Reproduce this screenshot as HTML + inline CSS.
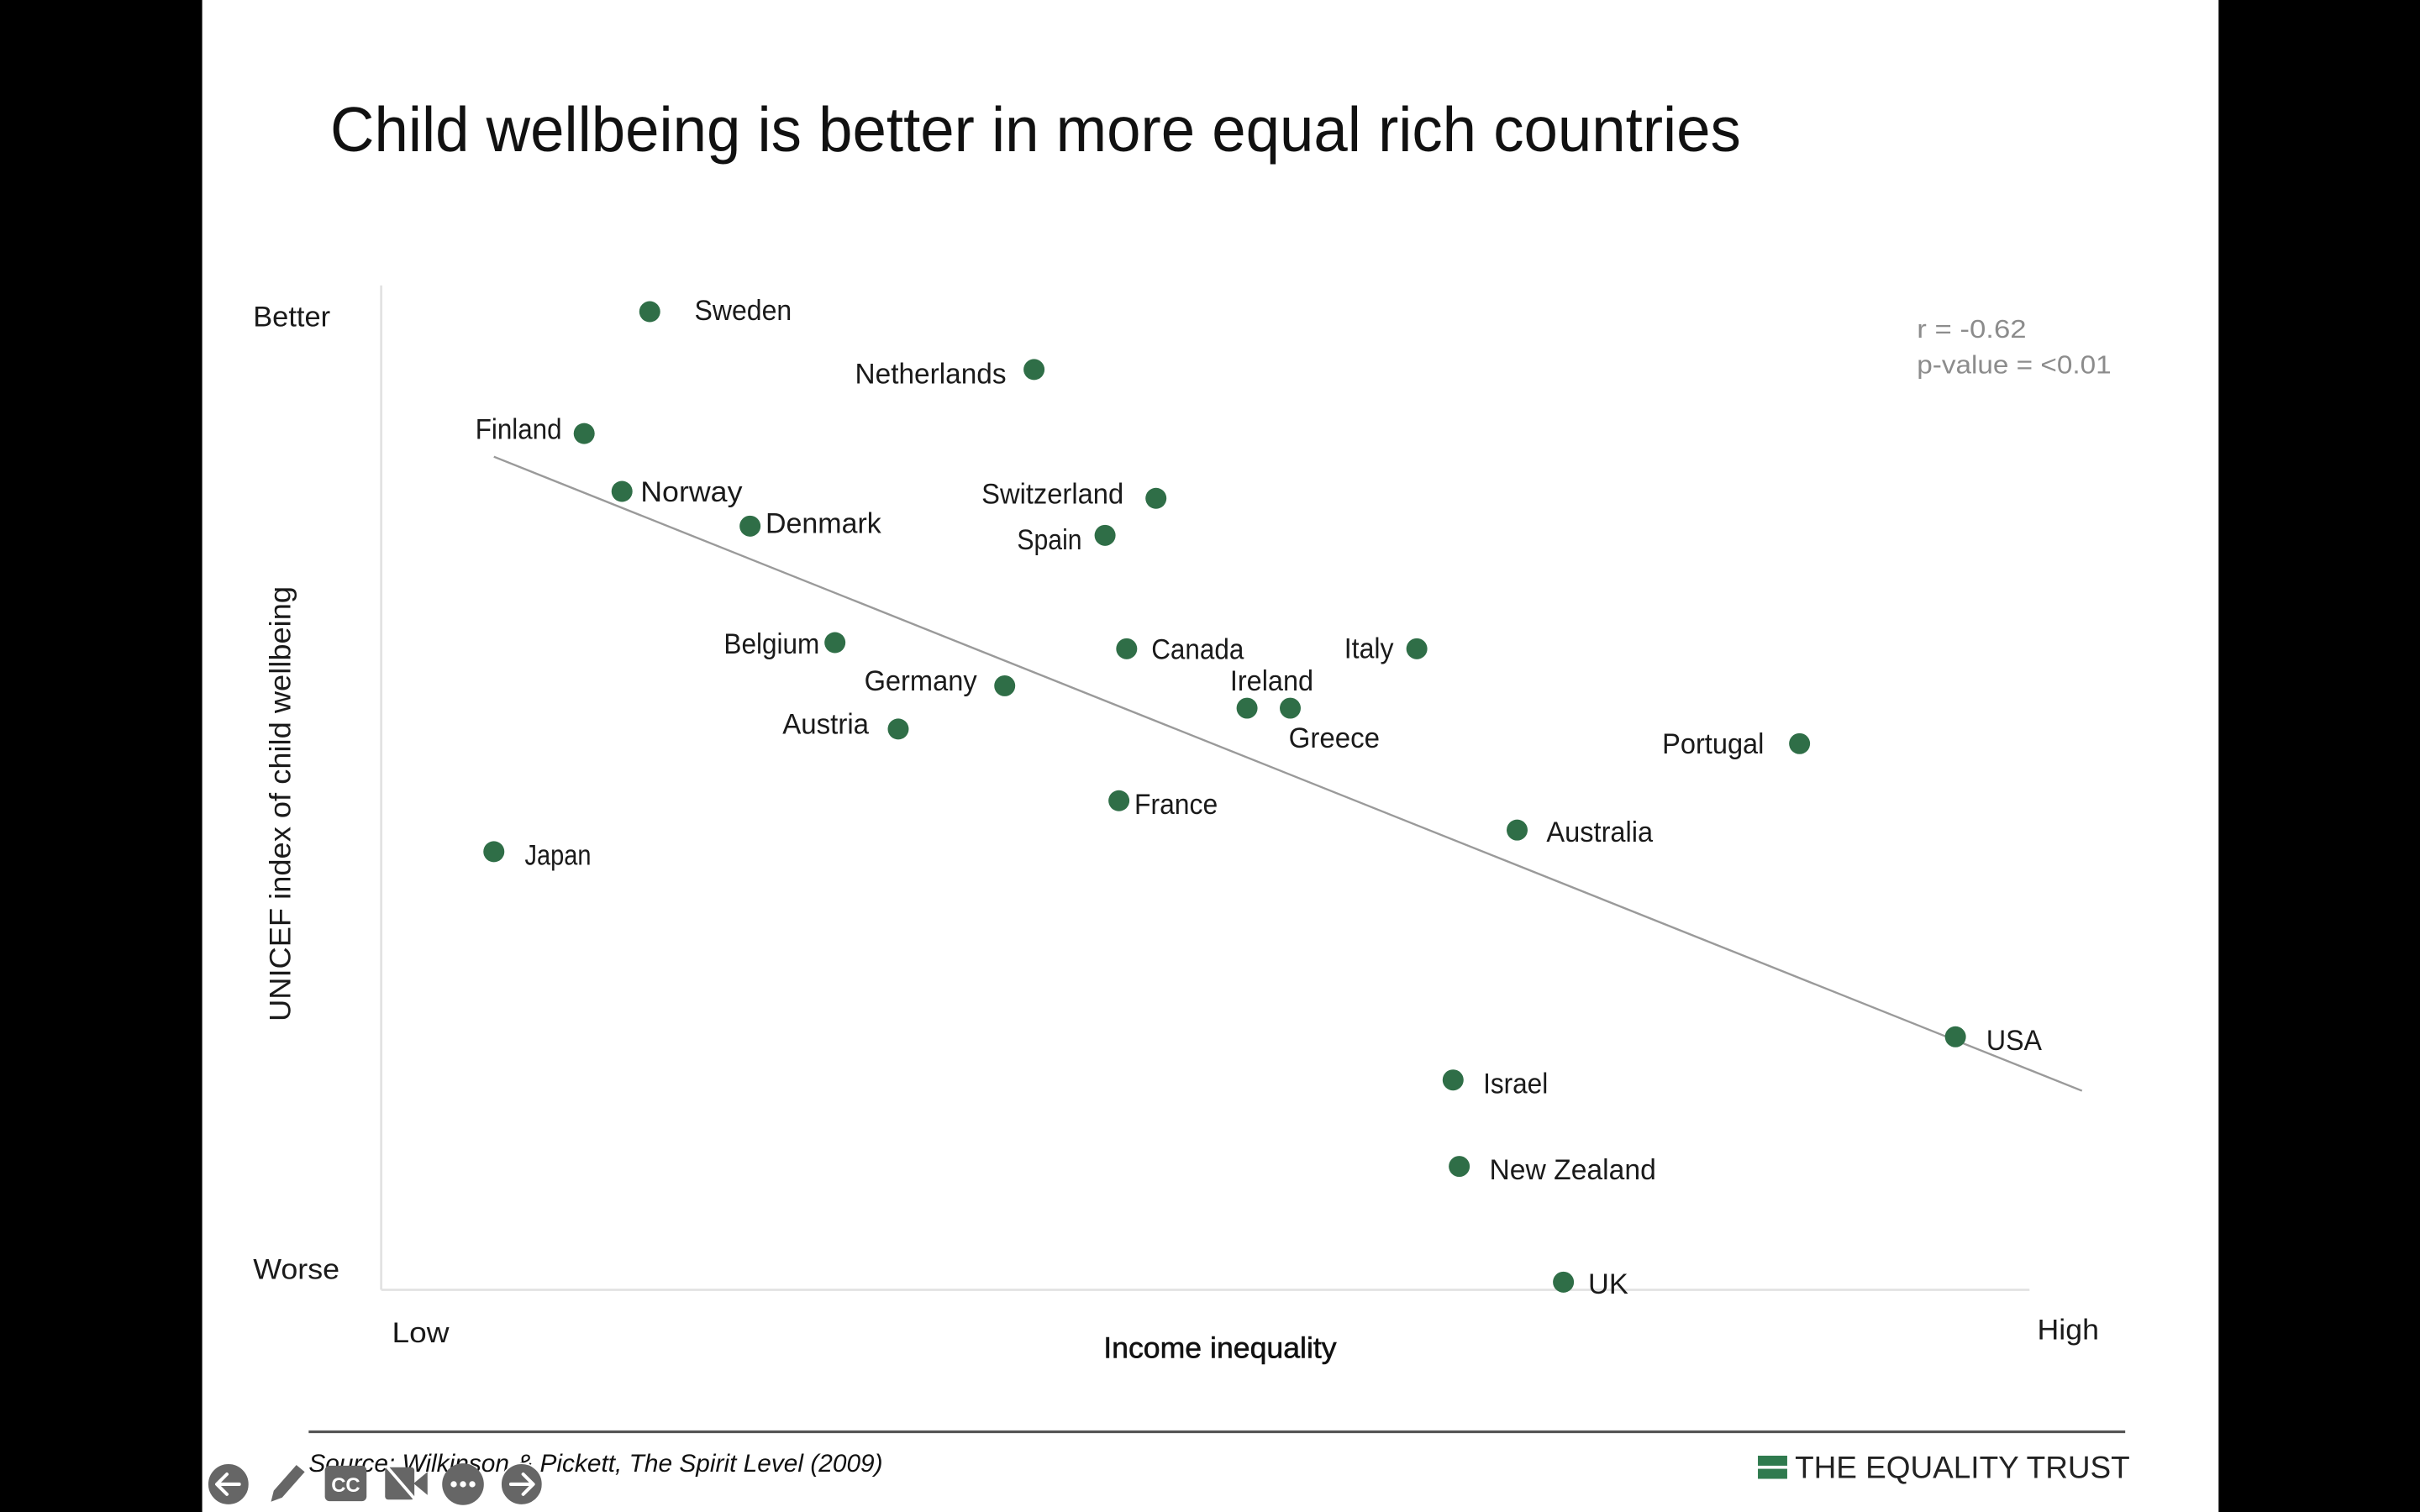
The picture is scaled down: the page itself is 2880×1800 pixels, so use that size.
<!DOCTYPE html>
<html>
<head>
<meta charset="utf-8">
<style>
  html, body { margin: 0; padding: 0; background: #000; }
  svg { display: block; }
  text { font-family: "Liberation Sans", "DejaVu Sans", sans-serif; }
</style>
</head>
<body>
<svg xmlns="http://www.w3.org/2000/svg" width="2880" height="1800" viewBox="0 0 1568 980">
  <rect x="0" y="0" width="1568" height="980" fill="#000"/>
  <rect x="131" y="0" width="1306.5" height="980" fill="#fff"/>

  <!-- Title -->
  <text x="214" y="98" font-size="41" fill="#111" textLength="914" lengthAdjust="spacingAndGlyphs">Child wellbeing is better in more equal rich countries</text>

  <!-- Axes -->
  <line x1="247" y1="185" x2="247" y2="836" stroke="#e2e2e2" stroke-width="1.5"/>
  <line x1="247" y1="836" x2="1315" y2="836" stroke="#e2e2e2" stroke-width="1.5"/>

  <!-- Axis labels -->
  <g font-size="18.5" fill="#1a1a1a">
    <text x="164" y="211.5" textLength="50" lengthAdjust="spacingAndGlyphs">Better</text>
    <text x="164" y="829" textLength="56" lengthAdjust="spacingAndGlyphs">Worse</text>
    <text x="254" y="870" textLength="37" lengthAdjust="spacingAndGlyphs">Low</text>
    <text x="1320" y="868" textLength="40" lengthAdjust="spacingAndGlyphs">High</text>
  </g>
  <text x="715" y="880" font-size="19" fill="#111" stroke="#111" stroke-width="0.3" textLength="151" lengthAdjust="spacingAndGlyphs">Income inequality</text>
  <text transform="translate(188,521) rotate(-90)" x="0" y="0" text-anchor="middle" font-size="19" fill="#1a1a1a" textLength="282" lengthAdjust="spacingAndGlyphs">UNICEF index of child wellbeing</text>

  <!-- Stats -->
  <g font-size="16.5" fill="#8c8c8c">
    <text x="1242" y="219" textLength="71" lengthAdjust="spacingAndGlyphs">r = -0.62</text>
    <text x="1242" y="242" textLength="126" lengthAdjust="spacingAndGlyphs">p-value = &lt;0.01</text>
  </g>

  <!-- Trend line -->
  <line x1="320" y1="296" x2="1349" y2="707" stroke="#9a9a9a" stroke-width="1.3"/>

  <!-- Points -->
  <g fill="#2f6e47">
    <circle cx="421" cy="202" r="6.8"/>
    <circle cx="670" cy="239.5" r="6.8"/>
    <circle cx="378.5" cy="281" r="6.8"/>
    <circle cx="403" cy="318.5" r="6.8"/>
    <circle cx="486" cy="341" r="6.8"/>
    <circle cx="749" cy="323" r="6.8"/>
    <circle cx="716" cy="347" r="6.8"/>
    <circle cx="541" cy="416.5" r="6.8"/>
    <circle cx="730" cy="420.5" r="6.8"/>
    <circle cx="918" cy="420.5" r="6.8"/>
    <circle cx="651" cy="444.5" r="6.8"/>
    <circle cx="808" cy="459" r="6.8"/>
    <circle cx="836" cy="459" r="6.8"/>
    <circle cx="582" cy="472.5" r="6.8"/>
    <circle cx="1166" cy="482" r="6.8"/>
    <circle cx="725" cy="519" r="6.8"/>
    <circle cx="983" cy="538" r="6.8"/>
    <circle cx="320" cy="552" r="6.8"/>
    <circle cx="1267" cy="672" r="6.8"/>
    <circle cx="941.5" cy="700" r="6.8"/>
    <circle cx="945.5" cy="756" r="6.8"/>
    <circle cx="1013" cy="831" r="6.8"/>
  </g>

  <!-- Point labels -->
  <g font-size="18.5" fill="#1a1a1a">
    <text x="450" y="207.5" textLength="63" lengthAdjust="spacingAndGlyphs">Sweden</text>
    <text x="554" y="248.5" textLength="98" lengthAdjust="spacingAndGlyphs">Netherlands</text>
    <text x="308" y="284.5" textLength="56" lengthAdjust="spacingAndGlyphs">Finland</text>
    <text x="415" y="325" textLength="66" lengthAdjust="spacingAndGlyphs">Norway</text>
    <text x="496" y="345.5" textLength="75" lengthAdjust="spacingAndGlyphs">Denmark</text>
    <text x="636" y="326.5" textLength="92" lengthAdjust="spacingAndGlyphs">Switzerland</text>
    <text x="659" y="356" textLength="42" lengthAdjust="spacingAndGlyphs">Spain</text>
    <text x="469" y="423.5" textLength="62" lengthAdjust="spacingAndGlyphs">Belgium</text>
    <text x="746" y="427" textLength="60" lengthAdjust="spacingAndGlyphs">Canada</text>
    <text x="871" y="426.5" textLength="32" lengthAdjust="spacingAndGlyphs">Italy</text>
    <text x="560" y="447.5" textLength="73" lengthAdjust="spacingAndGlyphs">Germany</text>
    <text x="797" y="447.5" textLength="54" lengthAdjust="spacingAndGlyphs">Ireland</text>
    <text x="835" y="484.5" textLength="59" lengthAdjust="spacingAndGlyphs">Greece</text>
    <text x="507" y="475.5" textLength="56" lengthAdjust="spacingAndGlyphs">Austria</text>
    <text x="1077" y="488.5" textLength="66" lengthAdjust="spacingAndGlyphs">Portugal</text>
    <text x="735" y="527.5" textLength="54" lengthAdjust="spacingAndGlyphs">France</text>
    <text x="1002" y="545.5" textLength="69" lengthAdjust="spacingAndGlyphs">Australia</text>
    <text x="340" y="560.5" textLength="43" lengthAdjust="spacingAndGlyphs">Japan</text>
    <text x="1287" y="680.5" textLength="36" lengthAdjust="spacingAndGlyphs">USA</text>
    <text x="961" y="708.5" textLength="42" lengthAdjust="spacingAndGlyphs">Israel</text>
    <text x="965" y="764.5" textLength="108" lengthAdjust="spacingAndGlyphs">New Zealand</text>
    <text x="1029" y="838.5" textLength="26" lengthAdjust="spacingAndGlyphs">UK</text>
  </g>

  <!-- Footer separator -->
  <line x1="200" y1="928" x2="1377" y2="928" stroke="#555" stroke-width="1.8"/>

  <!-- Source -->
  <text x="200" y="954" font-size="16" font-style="italic" fill="#111" textLength="372" lengthAdjust="spacingAndGlyphs">Source: Wilkinson &amp; Pickett, The Spirit Level (2009)</text>

  <!-- Logo -->
  <rect x="1139" y="943.5" width="19" height="6.5" fill="#2f7a4e"/>
  <rect x="1139" y="952" width="19" height="6.5" fill="#2f7a4e"/>
  <text x="1163" y="958" font-size="20" fill="#222" textLength="217" lengthAdjust="spacingAndGlyphs">THE EQUALITY TRUST</text>

  <!-- Toolbar icons -->
  <g>
    <!-- left arrow -->
    <circle cx="148" cy="962" r="13.5" fill="#666" stroke="#fff" stroke-width="1"/>
    <path d="M155 962 H141 M147 955.5 L140.5 962 L147 968.5" fill="none" stroke="#fff" stroke-width="2.2" stroke-linecap="round" stroke-linejoin="round"/>
    <!-- pencil -->
    <path d="M175 974 L177 966 L192 949 L198 954 L183 971 Z" fill="#666" stroke="#fff" stroke-width="0.8"/>
    <!-- CC -->
    <rect x="210.5" y="950" width="27" height="23" rx="3" fill="#666"/>
    <text x="224" y="967" font-size="13" font-weight="bold" fill="#fff" text-anchor="middle">CC</text>
    <!-- camera off -->
    <rect x="249.5" y="951" width="19" height="21" rx="2" fill="#666"/>
    <path d="M268 961.5 L277 954 V969 Z" fill="#666"/>
    <line x1="251" y1="951" x2="270" y2="973" stroke="#fff" stroke-width="2"/>
    <!-- more -->
    <circle cx="300" cy="962" r="13.5" fill="#666"/>
    <circle cx="294" cy="962" r="2" fill="#fff"/>
    <circle cx="300" cy="962" r="2" fill="#fff"/>
    <circle cx="306" cy="962" r="2" fill="#fff"/>
    <!-- right arrow -->
    <circle cx="338" cy="962" r="13.5" fill="#666" stroke="#fff" stroke-width="1"/>
    <path d="M331 962 H345 M339 955.5 L345.5 962 L339 968.5" fill="none" stroke="#fff" stroke-width="2.2" stroke-linecap="round" stroke-linejoin="round"/>
  </g>
</svg>
</body>
</html>
